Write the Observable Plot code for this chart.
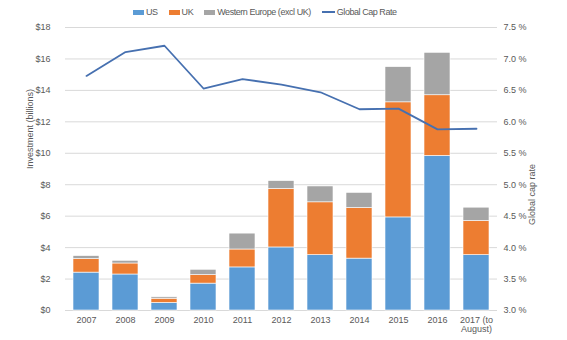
<!DOCTYPE html>
<html>
<head>
<meta charset="utf-8">
<script src="https://cdn.jsdelivr.net/npm/d3@7"></script>
<script src="https://cdn.jsdelivr.net/npm/@observablehq/plot@0.6"></script>
<style>
  html, body { margin: 0; padding: 0; background: #fff; }
  #wrap { position: relative; width: 567px; height: 340px; font-family: "Liberation Sans", Arial, sans-serif; }
  #legend { position: absolute; top: 6px; left: 133px; display: flex; gap: 11px; font-size: 9px; letter-spacing: -0.45px; color: #595959; line-height: 12px; }
  #legend .item { display: flex; align-items: center; gap: 2px; }
  #legend .sw { width: 11px; height: 5px; }
  #legend .ln { width: 13px; height: 2px; }
</style>
</head>
<body>
<div id="wrap">
  <div id="legend"></div>
  <div id="chart"></div>
</div>
<script>
const categories = ["2007","2008","2009","2010","2011","2012","2013","2014","2015","2016","2017 (to August)"];
const seriesNames = ["US","UK","Western Europe (excl UK)"];
const seriesColors = ["#5B9BD5","#ED7D31","#A5A5A5"];
const lineName = "Global Cap Rate";
const lineColor = "#4670b0";
const us = [2.41,2.29,0.48,1.71,2.74,4.01,3.52,3.30,5.92,9.83,3.52];
const uk = [0.86,0.70,0.27,0.54,1.14,3.72,3.36,3.22,7.32,3.86,2.17];
const we = [0.19,0.17,0.09,0.34,1.01,0.50,1.01,0.96,2.24,2.70,0.85];
const capRate = [6.73,7.11,7.21,6.53,6.68,6.59,6.47,6.20,6.21,5.88,5.89];
const leftTicks = [0,2,4,6,8,10,12,14,16,18];
const rightTicks = [3.0,3.5,4.0,4.5,5.0,5.5,6.0,6.5,7.0,7.5];

// map cap rate (3.0–7.5 %) onto the investment scale (0–18)
const rateMin = 3.0, rateMax = 7.5, invMax = 18;
const toInv = r => (r - rateMin) / (rateMax - rateMin) * invMax;
const toRate = v => v / invMax * (rateMax - rateMin) + rateMin;

const bars = [];
const seriesVals = [us, uk, we];
categories.forEach((c, i) => {
  seriesNames.forEach((s, j) => bars.push({cat: c, series: s, value: seriesVals[j][i]}));
});
const linePts = categories.map((c, i) => ({cat: c, v: toInv(capRate[i])}));

const textColor = "#595959";
const chart = Plot.plot({
  width: 567,
  height: 340,
  marginLeft: 65,
  marginRight: 70,
  marginTop: 27,
  marginBottom: 30,
  style: {fontFamily: "'Liberation Sans', Arial, sans-serif", fontSize: "9px", color: textColor, background: "#fff"},
  x: {domain: categories, paddingInner: 0.34, paddingOuter: 0.17, label: null},
  y: {domain: [0, invMax], label: null},
  color: {domain: seriesNames, range: seriesColors},
  marks: [
    Plot.gridY(leftTicks, {stroke: "#d9d9d9", strokeOpacity: 1, strokeWidth: 1}),
    Plot.barY(bars, {x: "cat", y: "value", fill: "series", stroke: "#fff", strokeWidth: 0.6}),
    Plot.line(linePts, {x: "cat", y: "v", stroke: lineColor, strokeWidth: 1.8}),
    Plot.axisY(leftTicks, {anchor: "left", tickSize: 0, tickPadding: 15, tickFormat: d => "$" + d, label: null, fill: textColor, letterSpacing: -0.3}),
    Plot.axisY(rightTicks.map(toInv), {anchor: "right", tickSize: 0, tickPadding: 6, tickFormat: d => toRate(d).toFixed(1) + " %", label: null, fill: textColor, letterSpacing: -0.3}),
    Plot.axisX({anchor: "bottom", tickSize: 0, tickPadding: 6, tickFormat: d => d.replace("(to ", "(to\n"), label: null, fill: textColor}),
    Plot.text(["Investment (billions)"], {frameAnchor: "left", rotate: -90, dx: -35, fill: textColor, fontSize: 9, letterSpacing: -0.4}),
    Plot.text(["Global cap rate"], {frameAnchor: "right", rotate: -90, dx: 35, dy: -5, fill: textColor, fontSize: 9, letterSpacing: -0.4})
  ]
});
document.getElementById("chart").appendChild(chart);

const legend = document.getElementById("legend");
seriesNames.forEach((s, j) => {
  const it = document.createElement("div");
  it.className = "item";
  it.innerHTML = `<span class="sw" style="background:${seriesColors[j]}"></span><span>${s}</span>`;
  legend.appendChild(it);
});
const li = document.createElement("div");
li.className = "item";
li.innerHTML = `<span class="ln" style="background:${lineColor}"></span><span>${lineName}</span>`;
legend.appendChild(li);
</script>
</body>
</html>
